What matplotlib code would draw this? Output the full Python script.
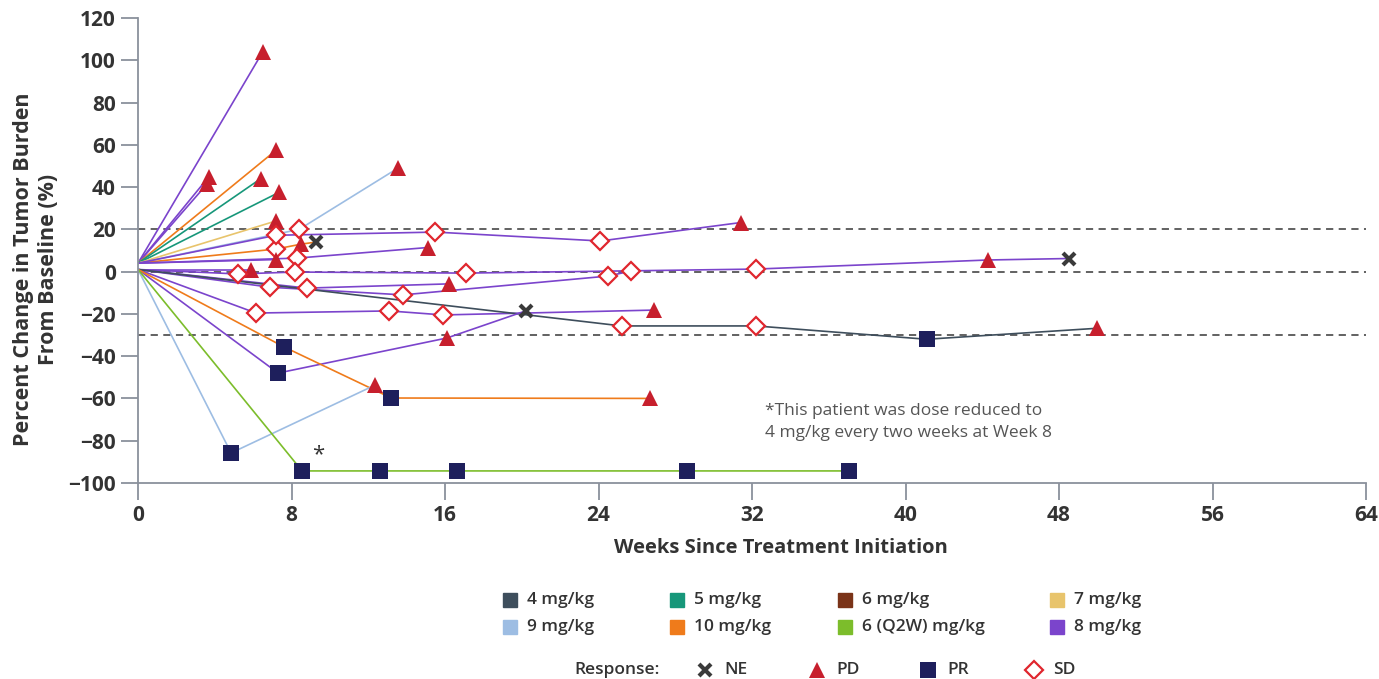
import matplotlib
matplotlib.use('Agg')
from matplotlib import pyplot as plt

plt.rcParams['font.family'] = ['Open Sans', 'DejaVu Sans']

# Dose cohorts (legend order: row by row)
dose_labels = ['4 mg/kg', '5 mg/kg', '6 mg/kg', '7 mg/kg',
               '9 mg/kg', '10 mg/kg', '6 (Q2W) mg/kg', '8 mg/kg']
dose_colors = ['#3e4e5c', '#17977a', '#7a3318', '#e8c46c',
               '#9dbde3', '#ef7b1b', '#7cbd2b', '#7b44cc']

# One entry per patient: cohort, assessment weeks, % change, response at each assessment
patient_dose = ['8 mg/kg', '8 mg/kg', '8 mg/kg', '10 mg/kg', '5 mg/kg', '5 mg/kg',
                '9 mg/kg', '7 mg/kg', '10 mg/kg', '8 mg/kg', '8 mg/kg', '8 mg/kg',
                '8 mg/kg', '8 mg/kg', '8 mg/kg', '8 mg/kg', '8 mg/kg', '4 mg/kg',
                '8 mg/kg', '10 mg/kg', '9 mg/kg', '6 (Q2W) mg/kg']
patient_weeks = [
    [0, 6.5],
    [0, 3.6],
    [0, 3.7],
    [0, 7.2],
    [0, 6.4],
    [0, 7.35],
    [0, 8.4, 13.55],
    [0, 7.2],
    [0, 7.2, 8.5, 9.3],
    [0, 7.2, 15.5, 24.1, 31.4],
    [0, 8.3, 15.1],
    [0, 7.2],
    [0, 5.9],
    [0, 5.2, 8.2, 17.1, 32.2, 44.3, 48.5],
    [0, 6.9, 13.8, 24.5, 25.7],
    [0, 8.8, 16.2],
    [0, 6.15, 13.1, 15.9, 26.9],
    [0, 25.2, 32.2, 41.1, 50.0],
    [0, 7.3, 16.1, 20.2],
    [0, 7.6, 13.2, 26.7],
    [0, 4.85, 12.35],
    [0, 8.55, 12.6, 16.6, 28.6, 37.05],
]
patient_change = [
    [4, 104],
    [4, 41.5],
    [4, 45],
    [4, 57.5],
    [4, 44],
    [4, 37.5],
    [4, 20, 49],
    [4, 24],
    [4, 10.7, 13, 14],
    [4, 17.2, 18.7, 14.5, 23.2],
    [4, 6.4, 11.4],
    [4, 5.7],
    [1, 1],
    [1, -1.1, -0.2, -0.7, 1.2, 5.5, 6.2],
    [1, -7.4, -11, -2.1, 0.3],
    [1, -7.8, -5.8],
    [1, -19.6, -18.6, -20.5, -18.2],
    [1, -25.7, -25.7, -32, -26.8],
    [1, -48, -31.4, -18.6],
    [1, -35.6, -59.8, -60],
    [1, -85.8, -53.7],
    [1, -94.3, -94.3, -94.3, -94.3, -94.3],
]
patient_response = [
    ['', 'PD'],
    ['', 'PD'],
    ['', 'PD'],
    ['', 'PD'],
    ['', 'PD'],
    ['', 'PD'],
    ['', 'SD', 'PD'],
    ['', 'PD'],
    ['', 'SD', 'PD', 'NE'],
    ['', 'SD', 'SD', 'SD', 'PD'],
    ['', 'SD', 'PD'],
    ['', 'PD'],
    ['', 'PD'],
    ['', 'SD', 'SD', 'SD', 'SD', 'PD', 'NE'],
    ['', 'SD', 'SD', 'SD', 'SD'],
    ['', 'SD', 'PD'],
    ['', 'SD', 'SD', 'SD', 'PD'],
    ['', 'SD', 'SD', 'PR', 'PD'],
    ['', 'PR', 'PD', 'NE'],
    ['', 'PR', 'PR', 'PD'],
    ['', 'PR', 'PD'],
    ['', 'PR', 'PR', 'PR', 'PR', 'PR'],
]

thresholds = [20, 0, -30]
x_ticks = [0, 8, 16, 24, 32, 40, 48, 56, 64]
y_ticks = [120, 100, 80, 60, 40, 20, 0, -20, -40, -60, -80, -100]

response_labels = ['NE', 'PD', 'PR', 'SD']
response_style = {
    'NE': dict(marker='x', ms=8.5, mew=3.0, color='#3a3a3a', mfc='#3a3a3a'),
    'PD': dict(marker='^', ms=11, mew=0, color='#c71f2d', mfc='#c71f2d'),
    'PR': dict(marker='s', ms=12, mew=0, color='#1e1f5c', mfc='#1e1f5c'),
    'SD': dict(marker='D', ms=9, mew=1.6, color='#e0262e', mfc='white'),
}

text_color = '#333333'
color_of = dict(zip(dose_labels, dose_colors))

fig = plt.figure(figsize=(13.79, 6.79), dpi=100)
ax = fig.add_axes([0.1001, 0.2887, 0.8905, 0.6848])

for y in thresholds:
    ax.axhline(y, color='#555555', lw=1.3, ls=(0, (4, 3)), zorder=1)

for dose, wk, chg in zip(patient_dose, patient_weeks, patient_change):
    ax.plot(wk, chg, color=color_of[dose], lw=1.2, zorder=2)

for wk, chg, resp in zip(patient_weeks, patient_change, patient_response):
    for w, c, r in zip(wk, chg, resp):
        if r:
            ax.plot(w, c, ls='none', zorder=3, **response_style[r])

ax.text(9.4, -86.5, '*', fontsize=16, color=text_color, ha='center', va='center')
ax.text(32.7, -62.3, '*This patient was dose reduced to\n4 mg/kg every two weeks at Week 8',
        fontsize=12.5, color='#555555', ha='left', va='top', linespacing=1.5)

ax.set_xlim(0, 64)
ax.set_ylim(-100, 120)
ax.set_xticks(x_ticks)
ax.set_yticks(y_ticks)
ax.set_yticklabels([f'{v}'.replace('-', '\u2212') for v in y_ticks])
for side in ['top', 'right']:
    ax.spines[side].set_visible(False)
for side in ['left', 'bottom']:
    ax.spines[side].set_color('#8a919c')
    ax.spines[side].set_linewidth(1.3)
ax.tick_params(axis='both', length=12, width=1.3, color='#8a919c',
               labelsize=15, labelcolor=text_color, pad=4)
for lbl in ax.get_xticklabels() + ax.get_yticklabels():
    lbl.set_fontweight('bold')

fig.text(36 / 1379, 1 - 269 / 679, 'Percent Change in Tumor Burden\nFrom Baseline (%)',
         rotation=90, ha='center', va='center', fontsize=15.5, fontweight='bold',
         color=text_color, multialignment='center', linespacing=1.25)
fig.text(781 / 1379, 1 - 548 / 679, 'Weeks Since Treatment Initiation',
         ha='center', va='center', fontsize=14.5, fontweight='bold', color=text_color)

# legend drawn on an overlay in pixel coordinates
lax = fig.add_axes([0, 0, 1, 1])
lax.set_xlim(0, 1379)
lax.set_ylim(679, 0)
lax.axis('off')

col_x = [510, 677, 845, 1057]
row_y = [600, 627]
for i, (lab, col) in enumerate(zip(dose_labels, dose_colors)):
    x, y = col_x[i % 4], row_y[i // 4]
    lax.plot(x, y, marker='s', ms=10.5, color=col, ls='none')
    lax.text(x + 17, y, lab, fontsize=12.5, fontweight='semibold', color=text_color,
             ha='left', va='center')

lax.text(660, 670, 'Response:', fontsize=12.5, fontweight='semibold', color=text_color,
         ha='right', va='center')
resp_x = [705, 817, 928, 1034]
for x, r in zip(resp_x, response_labels):
    lax.plot(x, 670, ls='none', **response_style[r])
    lax.text(x + 19, 670, r, fontsize=12.5, fontweight='semibold', color=text_color,
             ha='left', va='center')

fig.savefig('out.png', dpi=100)
